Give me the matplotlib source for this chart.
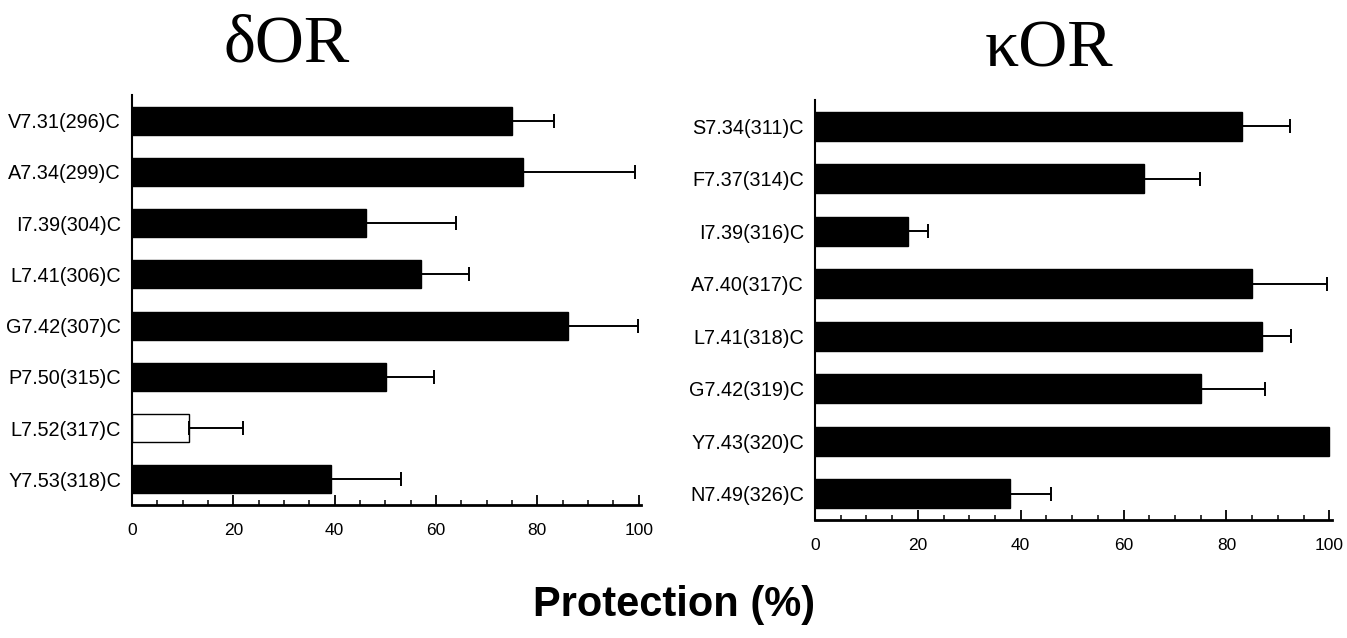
import matplotlib
matplotlib.use("Agg")
import matplotlib.pyplot as plt
from matplotlib.ticker import MultipleLocator

# Data
d_labels = ["V7.31(296)C", "A7.34(299)C", "I7.39(304)C", "L7.41(306)C",
            "G7.42(307)C", "P7.50(315)C", "L7.52(317)C", "Y7.53(318)C"]
d_values = [75.1, 77.2, 46.2, 57.1, 86.1, 50.1, 11.2, 39.2]
d_errors = [8.1, 22.1, 17.8, 9.5, 13.8, 9.6, 10.8, 13.9]
d_colors = ["black", "black", "black", "black", "black", "black", "white", "black"]

k_labels = ["S7.34(311)C", "F7.37(314)C", "I7.39(316)C", "A7.40(317)C",
            "L7.41(318)C", "G7.42(319)C", "Y7.43(320)C", "N7.49(326)C"]
k_values = [83.1, 64.0, 18.0, 85.0, 87.0, 75.1, 100.0, 38.0]
k_errors = [9.3, 10.9, 3.9, 14.6, 5.6, 12.3, 0.0, 7.9]
k_colors = ["black"] * 8

xticks = [0, 20, 40, 60, 80, 100]

plt.rcParams['font.family'] = ['Liberation Sans', 'DejaVu Sans']

fig = plt.figure(figsize=(13.47, 6.38), dpi=100)
ax1 = fig.add_axes([0.098, 0.2085, 0.378, 0.6426])
ax2 = fig.add_axes([0.605, 0.185, 0.3838, 0.658])

def draw(ax, labels, values, errors, colors):
    n = len(labels)
    ypos = list(range(n))
    ax.barh(ypos, values, height=0.55, color=colors, edgecolor="black", linewidth=1.0, zorder=2)
    for y, v, e in zip(ypos, values, errors):
        if e > 0:
            ax.errorbar([v], [y], xerr=[[0], [e]], fmt="none", ecolor="black",
                        elinewidth=1.4, capsize=5, capthick=1.4, zorder=3)
    ax.set_ylim(n - 0.5, -0.5)
    ax.set_xlim(0, 100.5)
    ax.set_yticks(ypos)
    ax.set_yticklabels(labels, fontsize=14.3)
    ax.set_xticks(xticks)
    ax.set_xticklabels([str(t) for t in xticks], fontsize=12.5)
    ax.xaxis.set_minor_locator(MultipleLocator(5))
    ax.tick_params(axis="y", length=0, pad=8)
    ax.tick_params(axis="x", which="major", direction="in", length=7, width=1.3, pad=13)
    ax.tick_params(axis="x", which="minor", direction="in", length=3.5, width=1.1)
    for s in ["top", "right"]:
        ax.spines[s].set_visible(False)
    ax.spines["left"].set_linewidth(1.5)
    ax.spines["bottom"].set_linewidth(2.0)

draw(ax1, d_labels, d_values, d_errors, d_colors)
draw(ax2, k_labels, k_values, k_errors, k_colors)

fig.text(287 / 1347, 1 - 45 / 638, "δOR", fontsize=49, family=["Liberation Serif", "DejaVu Serif"],
         ha="center", va="center")
fig.text(1049 / 1347, 1 - 50 / 638, "κOR", fontsize=49, family=["Liberation Serif", "DejaVu Serif"],
         ha="center", va="center")
fig.text(674 / 1347, 1 - 605 / 638, "Protection (%)", fontsize=30, fontweight="bold",
         ha="center", va="center")

fig.savefig("out.png", dpi=100)
